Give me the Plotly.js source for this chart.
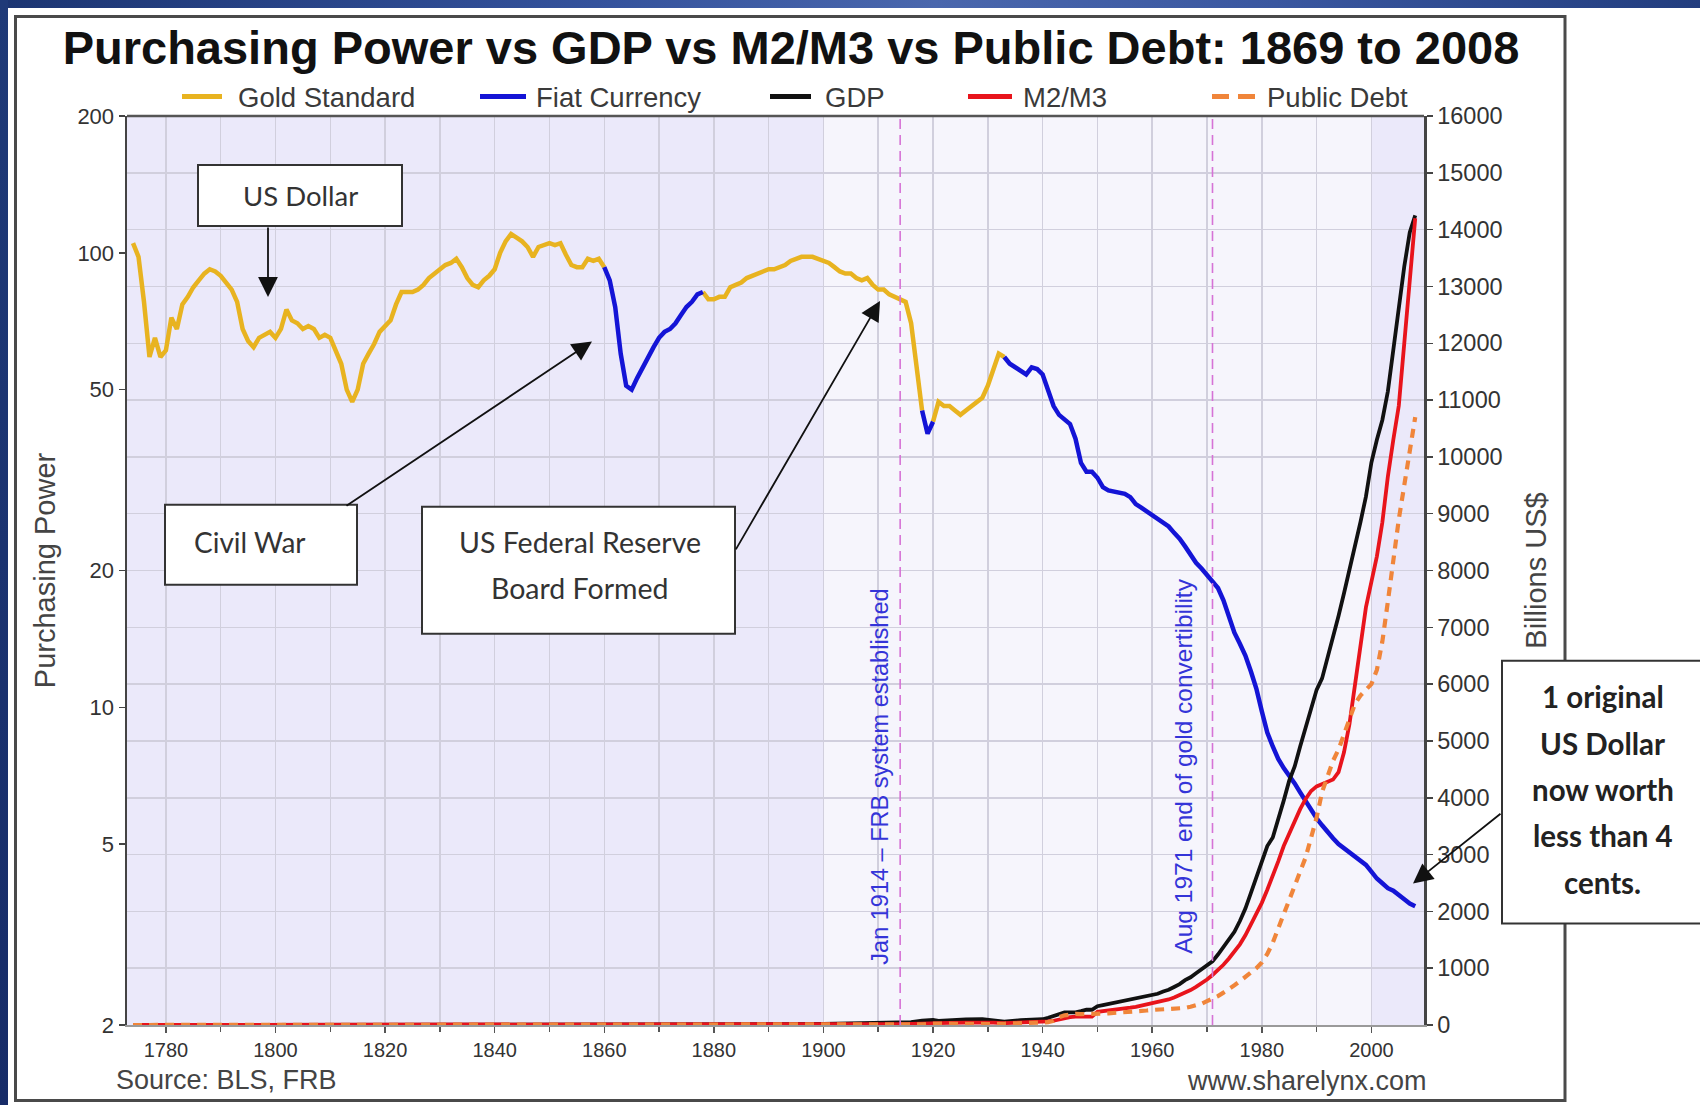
<!DOCTYPE html>
<html>
<head>
<meta charset="utf-8">
<script src="https://cdn.plot.ly/plotly-3.0.1.min.js"></script>
<style>
html,body{margin:0;padding:0;background:#fff;}
#wrap{position:relative;width:1700px;height:1105px;overflow:hidden;background:#fff;}
#topbar{position:absolute;left:0;top:0;width:1700px;height:8px;background:linear-gradient(90deg,#1c3572 0%,#34529c 35%,#4a67ad 55%,#3a57a0 75%,#223d7e 100%);}
#leftbar{position:absolute;left:0;top:0;width:8px;height:1105px;background:linear-gradient(180deg,#1f3a78,#172c68);}
#chart{position:absolute;left:0;top:0;width:1700px;height:1105px;}
</style>
</head>
<body>
<div id="wrap"><div id="topbar"></div><div id="leftbar"></div><div id="chart"></div></div>
<script>
// ---------------- data ----------------
const ppYears = [1774,1775,1776,1777,1778,1779,1780,1781,1782,1783,1784,1785,1786,1787,1788,1789,1790,1791,1792,1793,1794,1795,1796,1797,1798,1799,
1800,1801,1802,1803,1804,1805,1806,1807,1808,1809,1810,1811,1812,1813,1814,1815,1816,1817,1818,1819,1820,1821,1822,1823,1824,1825,1826,1827,1828,1829,
1830,1831,1832,1833,1834,1835,1836,1837,1838,1839,1840,1841,1842,1843,1844,1845,1846,1847,1848,1849,1850,1851,1852,1853,1854,1855,1856,1857,1858,1859,
1860,1861,1862,1863,1864,1865,1866,1867,1868,1869,1870,1871,1872,1873,1874,1875,1876,1877,1878,1879,1880,1881,1882,1883,1884,1885,1886,1887,1888,1889,
1890,1891,1892,1893,1894,1895,1896,1897,1898,1899,1900,1901,1902,1903,1904,1905,1906,1907,1908,1909,1910,1911,1912,1913,1914,1915,1916,1917,1918,1919,
1920,1921,1922,1923,1924,1925,1926,1927,1928,1929,1930,1931,1932,1933,1934,1935,1936,1937,1938,1939,1940,1941,1942,1943,1944,1945,1946,1947,1948,1949,
1950,1951,1952,1953,1954,1955,1956,1957,1958,1959,1960,1961,1962,1963,1964,1965,1966,1967,1968,1969,1970,1971,1972,1973,1974,1975,1976,1977,1978,1979,
1980,1981,1982,1983,1984,1985,1986,1987,1988,1989,1990,1991,1992,1993,1994,1995,1996,1997,1998,1999,2000,2001,2002,2003,2004,2005,2006,2007,2008];
const ppValues = [105,98,78,59,65,59,61,72,68,77,80,84,87,90,92,91,89,86,83,78,68,64,62,65,66,67,
65,68,75,71,70,68,69,68,65,66,65,61,57,50,47,50,57,60,63,67,69,71,77,82,82,82,83,85,88,90,
92,94,95,97,93,88,85,84,87,89,92,100,106,110,108,106,103,98,103,104,105,104,105,99,94,93,93,97,96,97,
93,87,76,60,51,50,53,56,59,62,65,67,68,70,73,76,78,81,82,79,79,80,80,84,85,86,88,89,90,91,
92,92,93,94,96,97,98,98,98,97,96,95,93,91,90,90,88,87,88,85,83,83,81,80,79,78,70,56,45,40,
42.5,47,46,46,45,44,45,46,47,48,51,55,60,59,57,56,55,54,56,55.5,54,50,46,44,43,42,39,34.5,33,33,
32,30.5,30,29.8,29.6,29.5,29,28,27.5,27,26.5,26,25.5,25,24.2,23.5,22.6,21.6,20.8,20.2,19.6,19,18.3,17.2,15.8,14.6,13.8,13,12,11,
9.8,8.8,8.2,7.7,7.35,7.1,6.8,6.5,6.2,5.95,5.7,5.5,5.3,5.15,5,4.9,4.8,4.7,4.6,4.5,4.35,4.2,4.1,4,3.95,3.85,3.78,3.7,3.65];
const fiatPeriods = [[1860,1878],[1918,1920],[1933,2008]];

const moneyYears = [1774,1790,1800,1820,1840,1860,1870,1880,1890,1900,1910,1914,1916,1918,1920,1921,1923,1926,1929,1931,1933,1936,1939,1940,1941,1942,1943,1944,1945,1946,1947,1948,1949,
1950,1951,1952,1953,1954,1955,1956,1957,1958,1959,1960,1961,1962,1963,1964,1965,1966,1967,1968,1969,1970,1971,1972,1973,1974,1975,1976,1977,1978,1979,
1980,1981,1982,1983,1984,1985,1986,1987,1988,1989,1990,1991,1992,1993,1994,1995,1996,1997,1998,1999,2000,2001,2002,2003,2004,2005,2006,2007,2008];
const gdpValues = [0.2,0.19,0.5,0.7,1.7,4.4,7.8,10,13,21,33,37,50,76,89,74,86,97,103,77,57,84,92,101,127,162,199,220,223,222,244,269,268,
330,350,370,390,400,420,445,470,480,510,530,550,590,620,670,720,790,840,910,980,1040,1120,1240,1380,1500,1640,1830,2050,2320,2600,
2880,3150,3300,3600,3950,4300,4550,4900,5250,5600,5900,6100,6450,6800,7200,7600,8000,8400,8850,9300,9900,10300,10650,11150,11900,12650,13350,13950,14250];
const m2m3Values = [0.05,0.1,0.2,0.3,0.5,1,1.5,2.5,4.5,7.5,13.5,17,21,29,35,33,38,43,46,42,32,40,49,55,63,75,97,117,137,146,150,148,147,
230,240,255,265,280,295,305,320,340,360,380,400,425,450,485,525,565,615,670,730,800,880,960,1060,1170,1290,1420,1580,1760,1960,
2150,2380,2620,2880,3150,3380,3600,3800,3980,4120,4200,4240,4270,4320,4450,4800,5300,5950,6700,7350,7800,8250,8850,9650,10300,10900,12000,13200,14200];
const debtValues = [0.1,0.08,0.08,0.09,0.01,0.06,2.4,2.1,1.2,2.1,2.7,2.9,3.6,12,26,24,22,20,17,17,22,34,40,43,49,72,137,170,190,195,192,190,195,
200,200,205,210,215,225,230,235,245,255,265,270,275,280,285,290,300,320,345,375,420,460,510,570,625,700,770,840,915,1000,
1100,1250,1450,1700,1950,2200,2450,2650,2950,3300,3650,4100,4400,4650,4850,5100,5400,5650,5800,5900,6000,6250,6750,7450,8200,8900,9500,10100,10700];

const seriesNames = ['Gold Standard','Fiat Currency','GDP','M2/M3','Public Debt'];
const ppTickVals = [2,5,10,20,50,100,200];
const eventYears = [1914,1971];
const eventLabels = ['Jan 1914 \u2013 FRB system established','Aug 1971 end of gold convertibility'];
const chartTitle = 'Purchasing Power vs GDP vs M2/M3 vs Public Debt: 1869 to 2008';
const calloutTexts = ['US Dollar','Civil War',['US Federal Reserve','Board Formed'],['1 original','US Dollar','now worth','less than 4','cents.']];

// ---------------- derived series ----------------
const insideFiat = y => fiatPeriods.some(p => y > p[0] && y < p[1]);
const inFiat = y => fiatPeriods.some(p => y >= p[0] && y <= p[1]);
const goldY = ppYears.map((y,i) => insideFiat(y) ? null : ppValues[i]);
const fiatY = ppYears.map((y,i) => inFiat(y) ? ppValues[i] : null);

const colors = {gold:'#e8b320', fiat:'#1414d6', gdp:'#111111', m2:'#e8141c', debt:'#f0853a'};

const traces = [
  {x:ppYears, y:goldY, name:seriesNames[0], type:'scatter', mode:'lines', line:{color:colors.gold,width:4.5}, yaxis:'y'},
  {x:ppYears, y:fiatY, name:seriesNames[1], type:'scatter', mode:'lines', line:{color:colors.fiat,width:4.5}, yaxis:'y'},
  {x:moneyYears, y:gdpValues, name:seriesNames[2], type:'scatter', mode:'lines', line:{color:colors.gdp,width:3.8}, yaxis:'y2'},
  {x:moneyYears, y:m2m3Values, name:seriesNames[3], type:'scatter', mode:'lines', line:{color:colors.m2,width:3.8}, yaxis:'y2'},
  {x:moneyYears, y:debtValues, name:seriesNames[4], type:'scatter', mode:'lines', line:{color:colors.debt,width:4.2,dash:'9px,7px'}, yaxis:'y2'}
];

// ---------------- layout helpers (pixel -> paper) ----------------
const L=127, R=1424, T=116, B=1025.5;
const px = x => (x-L)/(R-L);
const py = y => (B-y)/(B-T);
const XR = [1772.9, 2009.6];
const gridCol = '#d1cfdd';
const BOXFONT = 'Lato, "Open Sans", "Noto Sans", sans-serif';
const ARIAL = '"Liberation Sans", Arial, Helvetica, sans-serif';

const shapes = [
  {type:'rect', xref:'x', yref:'paper', x0:XR[0], x1:1900, y0:0, y1:1, fillcolor:'#ebe9fa', line:{width:0}, layer:'below'},
  {type:'rect', xref:'x', yref:'paper', x0:2000, x1:XR[1], y0:0, y1:1, fillcolor:'#ebe9fa', line:{width:0}, layer:'below'},
  // panel border
  {type:'rect', xref:'paper', yref:'paper', x0:px(15.5), x1:px(1565), y0:py(1101), y1:py(16.5), line:{color:'#4a4a4a',width:3}, fillcolor:'rgba(0,0,0,0)', layer:'below'},
  // plot top border
  {type:'line', xref:'paper', yref:'paper', x0:0, x1:1, y0:1, y1:1, line:{color:'#555',width:2.5}}
];
eventYears.forEach(yr => shapes.push({type:'line', xref:'x', yref:'paper', x0:yr, x1:yr, y0:0, y1:1, line:{color:'#d673d6', width:1.6, dash:'10px,6px'}}));

// custom legend
const legendPos = [[182,222,236],[480,526,534],[770,811,823],[968,1012,1021],[1212,1255,1265]];
const legendCols = [colors.gold, colors.fiat, colors.gdp, colors.m2, colors.debt];
const annotations = [];
legendPos.forEach((p,i) => {
  shapes.push({type:'line', xref:'paper', yref:'paper', x0:px(p[0]), x1:px(p[1]), y0:py(96.5), y1:py(96.5),
    line:{color:legendCols[i], width:5, dash: i===4 ? '17px,9px' : 'solid'}});
  annotations.push({xref:'paper', yref:'paper', x:px(p[2]), y:py(97), xanchor:'left', yanchor:'middle', showarrow:false,
    text:seriesNames[i], font:{family:ARIAL, size:27.5, color:'#3a3a3a'}});
});

// callout boxes
const boxes = [[198,402,165,226],[165,357,505,585],[422,735,507,634],[1502,1712,661,924]];
boxes.forEach(b => shapes.push({type:'rect', xref:'paper', yref:'paper', x0:px(b[0]), x1:px(b[1]), y0:py(b[3]), y1:py(b[2]), fillcolor:'#ffffff', line:{color:'#333', width:2}, layer:'above'}));
annotations.push({xref:'paper', yref:'paper', x:px(300), y:py(196), showarrow:false, text:calloutTexts[0], font:{family:BOXFONT, size:27.5, color:'#333'}, xanchor:'center', yanchor:'middle'});
annotations.push({xref:'paper', yref:'paper', x:px(250), y:py(542), showarrow:false, text:calloutTexts[1], font:{family:BOXFONT, size:28, color:'#333'}, xanchor:'center', yanchor:'middle'});
[542,588].forEach((yy,i) => annotations.push({xref:'paper', yref:'paper', x:px(579.5), y:py(yy), showarrow:false, text:calloutTexts[2][i], font:{family:BOXFONT, size:28.5, color:'#333'}, xanchor:'center', yanchor:'middle'}));
[697,744,790,836,883].forEach((yy,i) => annotations.push({xref:'paper', yref:'paper', x:px(1602.5), y:py(yy), showarrow:false, text:'<b>'+calloutTexts[3][i]+'</b>', font:{family:BOXFONT, size:29.5, color:'#222'}, xanchor:'center', yanchor:'middle'}));

// arrows: [tipX, tipY, tailX, tailY]
const arrows = [[268,297,268,226],[592,341.5,345,507],[880,301,735,551],[1413,884,1502,813]];
arrows.forEach(a => annotations.push({xref:'paper', yref:'paper', x:px(a[0]), y:py(a[1]), ax:a[2]-a[0], ay:a[3]-a[1],
  text:'', showarrow:true, arrowhead:2, arrowsize:2.2, arrowwidth:1.8, arrowcolor:'#111', standoff:0, startstandoff:0, font:{size:1}}));

// event labels
[[880,777],[1184,767]].forEach((p,i) => annotations.push({xref:'paper', yref:'paper', x:px(p[0]), y:py(p[1]), showarrow:false, textangle:-90,
  text:eventLabels[i], font:{family:ARIAL, size:i===0?23.5:24.5, color:'#3434d8'}, xanchor:'center', yanchor:'middle'}));

// footer texts
annotations.push({xref:'paper', yref:'paper', x:px(114), y:py(1081), xanchor:'left', yanchor:'middle', showarrow:false, text:'Source: BLS, FRB', font:{family:ARIAL, size:27, color:'#444'}});
annotations.push({xref:'paper', yref:'paper', x:px(1429), y:py(1082), xanchor:'right', yanchor:'middle', showarrow:false, text:'www.sharelynx.com', font:{family:ARIAL, size:27, color:'#444'}});

const layout = {
  width:1700, height:1105,
  margin:{l:L, r:1700-R, t:T, b:1105-B, autoexpand:false},
  paper_bgcolor:'rgba(0,0,0,0)', plot_bgcolor:'#f6f5fc',
  showlegend:false,
  font:{family:ARIAL, color:'#333'},
  title:{text:'<b>'+chartTitle+'</b>', font:{family:ARIAL, size:47, color:'#111'}, xref:'container', yref:'container', x:791/1700, xanchor:'center', y:1-48/1105, yanchor:'middle'},
  xaxis:{range:XR, tickmode:'linear', tick0:1780, dtick:20, ticks:'outside', ticklen:6, tickwidth:1.5, tickcolor:'#555',
    showgrid:true, gridcolor:gridCol, gridwidth:1.5, zeroline:false, showline:true, linecolor:'#9a9a9a', linewidth:2,
    tickfont:{size:20, color:'#333'},
    minor:{tickmode:'linear', tick0:1780, dtick:10, ticks:'outside', ticklen:5, tickcolor:'#555', showgrid:true, gridcolor:gridCol, gridwidth:1.5}},
  yaxis:{type:'log', range:[Math.log10(2), Math.log10(200)], tickmode:'array', tickvals:ppTickVals, ticktext:ppTickVals.map(String),
    ticks:'outside', ticklen:6, tickwidth:1.5, tickcolor:'#444', showgrid:false, zeroline:false, showline:true, linecolor:'#444', linewidth:2.5,
    tickfont:{size:22, color:'#333'}, title:{text:'Purchasing Power', font:{size:29, color:'#444'}, standoff:13}},
  yaxis2:{overlaying:'y', side:'right', range:[0,16000], tickmode:'linear', tick0:0, dtick:1000, tickformat:'d',
    ticks:'outside', ticklen:6, tickwidth:1.5, tickcolor:'#444', showgrid:true, gridcolor:gridCol, gridwidth:1.5, zeroline:false,
    showline:true, linecolor:'#444', linewidth:2.5, tickfont:{size:23.5, color:'#333'},
    title:{text:'Billions US$', font:{size:29, color:'#444'}, standoff:24}},
  shapes:shapes, annotations:annotations
};

Plotly.newPlot('chart', traces, layout, {staticPlot:true, displayModeBar:false});
</script>
</body>
</html>
